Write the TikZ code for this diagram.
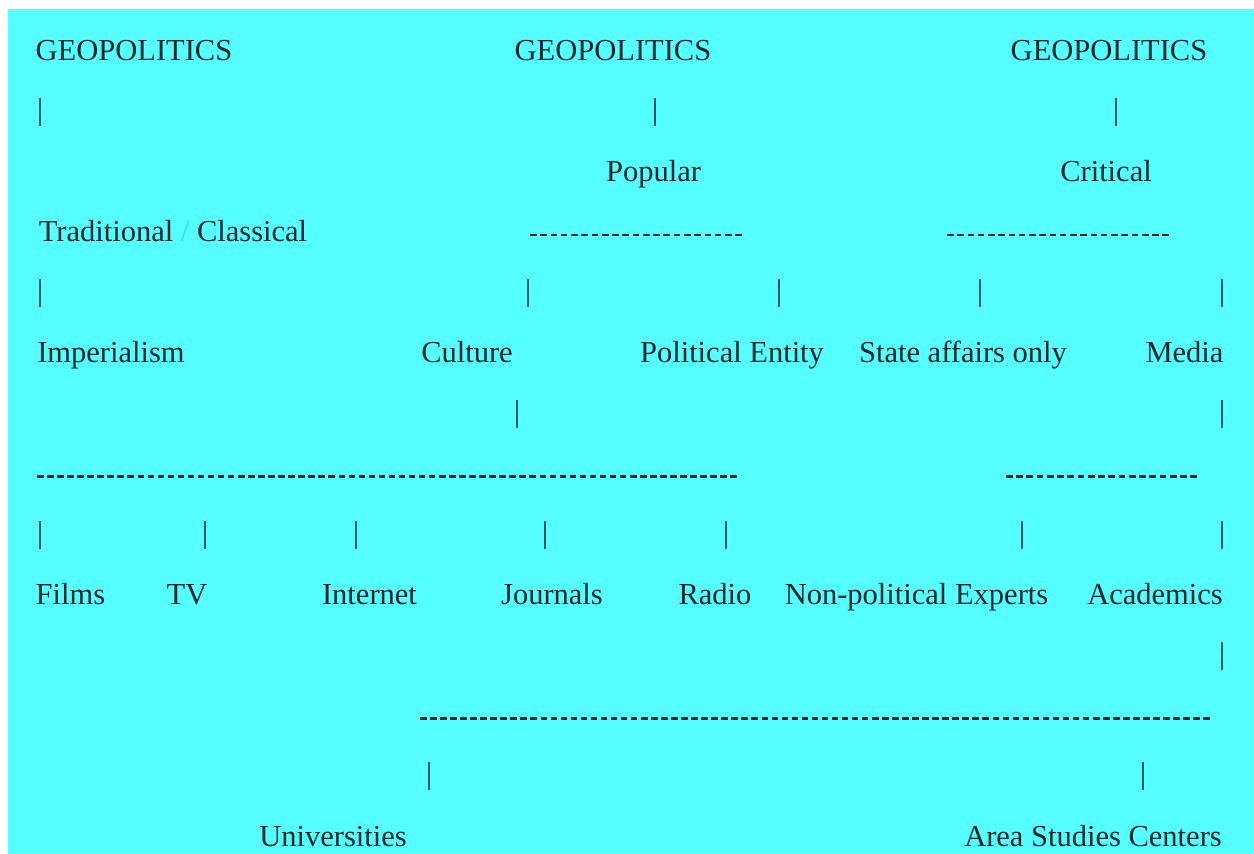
\documentclass[tikz,border=0pt]{standalone}
\usepackage{fontspec}
\setmainfont{Liberation Serif}
\definecolor{bg}{HTML}{55FFFF}
\definecolor{ink}{HTML}{06262C}
\definecolor{barc}{HTML}{0F5A60}
\definecolor{slashc}{HTML}{30E0E8}
\newcommand\mkbar[3]{\coordinate (#1t) at (#2,#3-13); \coordinate (#1b) at (#2,#3+15); \draw[vbar] (#1t) -- (#1b);}
\newcommand\mkdash[5]{%
  \pgfmathsetmacro\dashper{(#3-#2)/(#5-0.35)}%
  \pgfmathsetmacro\dashon{0.65*\dashper}%
  \pgfmathsetmacro\dashoff{0.35*\dashper}%
  \coordinate (#1l) at (#2,#4+3.5); \coordinate (#1r) at (#3,#4+3.5);
  \draw[dashline, dash pattern=on \dashon pt off \dashoff pt] (#1l) -- (#1r);}
\begin{document}
\begin{tikzpicture}[x=1pt,y=-1pt,
  lbl/.style={anchor=base, inner sep=0pt, text=ink, font=\fontsize{30.5}{36}\selectfont},
  vbar/.style={draw=barc, line width=1.7pt},
  dashline/.style={draw=ink, line width=2.2pt}]
\useasboundingbox (0,0) rectangle (1254,854);
\fill[white] (0,0) rectangle (1254,854);
\fill[bg] (8,9) rectangle (1254,854);
% row 1
\node[lbl] (geoA) at (134,60) {GEOPOLITICS};
\node[lbl] (geoB) at (613,60) {GEOPOLITICS};
\node[lbl] (geoC) at (1109,60) {GEOPOLITICS};
% row 2
\mkbar{b2a}{40}{110.5}
\mkbar{b2b}{655}{110.5}
\mkbar{b2c}{1116}{110.5}
% row 3
\node[lbl] (popular) at (653.5,181) {Popular};
\node[lbl] (critical) at (1106,181) {Critical};
% row 4
\node[lbl] (trad) at (173,241.5) {Traditional {\color{slashc}/} Classical};
\mkdash{d4a}{530}{742}{231.5}{21}
\mkdash{d4b}{947}{1169}{231.5}{22}
% row 5
\mkbar{b5a}{40}{292}
\mkbar{b5b}{528}{292}
\mkbar{b5c}{779}{292}
\mkbar{b5d}{980}{292}
\mkbar{b5e}{1222}{292}
% row 6
\node[lbl] (imperialism) at (111,362) {Imperialism};
\node[lbl] (culture) at (467,362) {Culture};
\node[lbl] (political) at (732,362) {Political Entity};
\node[lbl] (state) at (963,362) {State affairs only};
\node[lbl] (media) at (1184.5,362) {Media};
% row 7
\mkbar{b7a}{517}{413}
\mkbar{b7b}{1222}{413}
% row 8
\mkdash{d8a}{37}{737}{473}{70}
\mkdash{d8b}{1006}{1197}{473}{19}
% row 9
\mkbar{b9a}{40}{534}
\mkbar{b9b}{205}{534}
\mkbar{b9c}{356}{534}
\mkbar{b9d}{545}{534}
\mkbar{b9e}{726}{534}
\mkbar{b9f}{1022}{534}
\mkbar{b9g}{1222}{534}
% row 10
\node[lbl] (films) at (70.5,604) {Films};
\node[lbl] (tv) at (187,604) {TV};
\node[lbl] (internet) at (369.5,604) {Internet};
\node[lbl] (journals) at (552,604) {Journals};
\node[lbl] (radio) at (715,604) {Radio};
\node[lbl] (experts) at (916.5,604) {Non-political Experts};
\node[lbl] (academics) at (1155,604) {Academics};
% row 11
\mkbar{b11a}{1222}{654.5}
% row 12
\mkdash{d12a}{420}{1210}{715}{79}
% row 13
\mkbar{b13a}{429}{775.4}
\mkbar{b13b}{1143}{775.4}
% row 14
\node[lbl] (universities) at (333,846) {Universities};
\node[lbl] (area) at (1093,846) {Area Studies Centers};
\end{tikzpicture}
\end{document}
